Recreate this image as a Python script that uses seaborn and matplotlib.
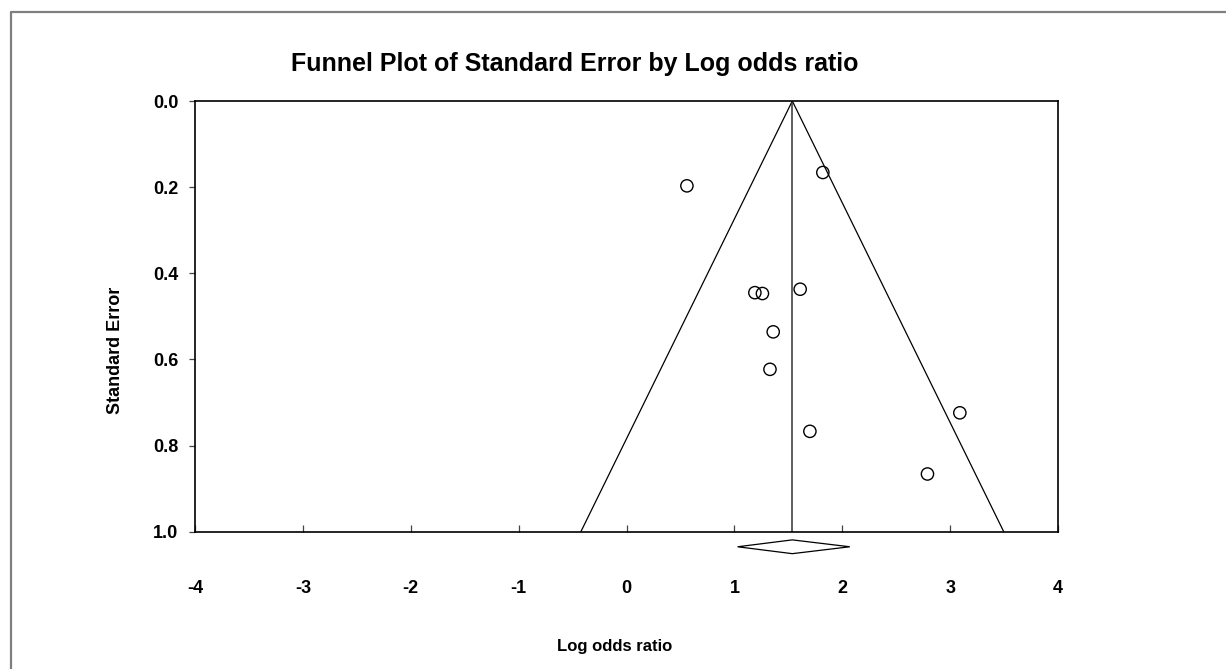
import matplotlib
matplotlib.use("Agg")
import matplotlib.pyplot as plt
from matplotlib import font_manager
from matplotlib.lines import Line2D
from matplotlib.patches import Polygon
import numpy as np
import pandas as pd
import seaborn as sns

# ---- data ----
log_odds = [0.56, 1.82, 1.19, 1.26, 1.61, 1.36, 1.33, 3.09, 1.70, 2.79]
std_err = [0.197, 0.166, 0.445, 0.447, 0.437, 0.536, 0.623, 0.724, 0.767, 0.866]
pooled_mean = 1.537
pooled_ci_low = 1.03
pooled_ci_high = 2.07
x_ticks = [-4, -3, -2, -1, 0, 1, 2, 3, 4]
y_ticks = [0.0, 0.2, 0.4, 0.6, 0.8, 1.0]

sns.set_theme(style="white")
names = {f.name for f in font_manager.fontManager.ttflist}
fam = ["Liberation Sans Narrow", "Liberation Sans", "DejaVu Sans"]
fam = [f for f in fam if f in names] or ["DejaVu Sans"]
plt.rcParams["font.family"] = fam
plt.rcParams["text.color"] = "black"
plt.rcParams["xtick.color"] = "black"
plt.rcParams["ytick.color"] = "black"
plt.rcParams["axes.labelcolor"] = "black"

fig = plt.figure(figsize=(12.26, 6.69), dpi=100)
ax = fig.add_axes([195 / 1226, 1 - 531.7 / 669, (1058 - 195) / 1226, (531.7 - 101) / 669])

df = pd.DataFrame({"Log odds ratio": log_odds, "Standard Error": std_err})

# funnel
se_line = np.array([0.0, 1.0])
ax.plot(pooled_mean - 1.96 * se_line, se_line, color="black", lw=0.9, zorder=2)
ax.plot(pooled_mean + 1.96 * se_line, se_line, color="black", lw=0.9, zorder=2)
ax.plot([pooled_mean, pooled_mean], [0, 1], color="#333333", lw=1.1, zorder=2)

sns.scatterplot(data=df, x="Log odds ratio", y="Standard Error", ax=ax,
                marker="o", s=78, facecolor="none", edgecolor="black",
                linewidth=1.0, zorder=3)

ax.set_xlim(-4, 4)
ax.set_ylim(1.0, 0.0)
ax.set_xticks(x_ticks)
ax.set_xticklabels([str(t) for t in x_ticks])
ax.set_yticks(y_ticks)
ax.set_yticklabels([f"{t:.1f}" for t in y_ticks])
ax.set_xlabel("")
ax.set_ylabel("")

# diamond below axis
dy = 0.016
yc = 1.035
diamond = Polygon([[pooled_ci_low, yc], [pooled_mean, yc - dy],
                   [pooled_ci_high, yc], [pooled_mean, yc + dy]],
                  closed=True, facecolor="white", edgecolor="black",
                  lw=0.9, clip_on=False, zorder=4)
ax.add_patch(diamond)

for s in ax.spines.values():
    s.set_visible(True)
    s.set_color("black")
    s.set_linewidth(1.2)

ax.tick_params(axis="x", direction="in", length=5, width=0.9, color="#444444",
               pad=35, labelsize=13, labelcolor="black")
ax.tick_params(axis="y", direction="out", length=4, width=0.9, color="#444444",
               pad=8, labelsize=13, left=True, labelcolor="black")
ax.tick_params(axis="x", bottom=True)
for lab in ax.get_xticklabels() + ax.get_yticklabels():
    lab.set_fontweight("bold")

fig.text(575 / 1226, 1 - 64 / 669, "Funnel Plot of Standard Error by Log odds ratio",
         ha="center", va="center", fontsize=18, fontweight="bold", color="black")
fig.text(615 / 1226, 1 - 646 / 669, "Log odds ratio", ha="center", va="center",
         fontsize=12, fontweight="bold", color="black")
fig.text(115 / 1226, 1 - 350 / 669, "Standard Error", ha="center", va="center",
         rotation=90, fontsize=13, fontweight="bold", color="black")

# outer frame (left and top edges)
fx = 11 / 1226
fy = 1 - 12 / 669
fig.add_artist(Line2D([fx, fx, 1.0], [0.0, fy, fy], transform=fig.transFigure,
                      color="#7f7f7f", lw=1.6))

fig.savefig("out.png", dpi=100, facecolor="white")
